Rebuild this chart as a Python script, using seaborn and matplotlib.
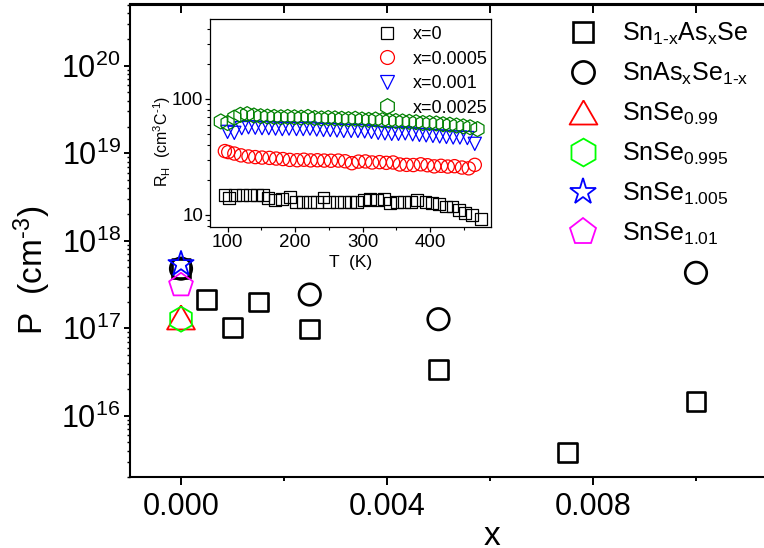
import numpy as np
import matplotlib
matplotlib.use("Agg")
import matplotlib.pyplot as plt
import seaborn as sns
from matplotlib.lines import Line2D
from matplotlib.ticker import MultipleLocator, LogLocator, NullFormatter, FixedLocator

# ---------------- data (main panel) ----------------
x_sn1x = [0.0, 0.0005, 0.001, 0.0015, 0.0025, 0.005, 0.0075, 0.01]
p_sn1x = [4.8e17, 2.15e17, 1.02e17, 2.0e17, 0.98e17, 3.4e16, 3.8e15, 1.47e16]
x_snas = [0.0, 0.0025, 0.005, 0.01]
p_snas = [4.8e17, 2.43e17, 1.27e17, 4.3e17]
x_se099 = [0.0]
p_se099 = [1.33e17]
x_se0995 = [0.0]
p_se0995 = [1.27e17]
x_se1005 = [0.0]
p_se1005 = [5.4e17]
x_se101 = [0.0]
p_se101 = [3.1e17]
main_labels = [r"Sn$_{1\text{-}x}$As$_x$Se", r"SnAs$_x$Se$_{1\text{-}x}$",
               r"SnSe$_{0.99}$", r"SnSe$_{0.995}$", r"SnSe$_{1.005}$", r"SnSe$_{1.01}$"]
x_ticks = [0.000, 0.004, 0.008]

# ---------------- data (inset) ----------------
T_x0 = [96, 102, 111, 122, 133, 144, 153, 160, 170, 180, 192, 201, 211, 222, 232, 242,
        250, 262, 272, 282, 292, 302, 311, 321, 331, 341, 351, 361, 372, 381, 393, 403,
        413, 423, 433, 443, 452, 462, 475]
R_x0 = [14.9, 13.9, 14.9, 14.9, 14.9, 14.9, 14.9, 13.9, 13.5, 13.6, 14.2, 13.0, 13.0,
        13.0, 13.0, 14.1, 12.9, 12.9, 12.9, 13.0, 13.0, 13.5, 13.6, 13.5, 13.6, 12.6,
        13.0, 12.9, 13.0, 13.5, 13.0, 12.6, 12.4, 11.8, 11.8, 11.0, 10.3, 10.0, 9.2]
T_x00005 = [96, 101, 110, 120, 131, 141, 151, 162, 172, 182, 192, 203, 213, 223, 233,
            243, 253, 264, 274, 284, 294, 304, 314, 325, 335, 345, 355, 365, 375, 386,
            396, 406, 416, 426, 436, 447, 457, 466]
R_x00005 = [35.5, 34.8, 33.8, 32.6, 31.9, 31.5, 31.2, 31.0, 30.6, 30.3, 29.8, 29.6,
            29.9, 29.5, 29.6, 29.4, 29.3, 29.4, 29.0, 27.9, 28.8, 28.9, 28.3, 28.5,
            28.1, 28.3, 27.2, 27.0, 26.9, 27.3, 26.8, 26.2, 26.5, 26.1, 26.3, 25.6,
            25.2, 27.0]
T_x0001 = [100, 110, 121, 131, 141, 151, 161, 171, 181, 191, 202, 212, 222, 232, 242,
           252, 262, 272, 283, 293, 303, 313, 323, 333, 343, 353, 363, 374, 384, 394,
           404, 414, 424, 434, 444, 455, 466]
R_x0001 = [52, 51, 56, 57, 56.5, 56, 56, 55.5, 55, 55.5, 55, 55, 55.5, 54.5, 54, 54,
           53.5, 53, 53, 53, 52.5, 52, 51, 50.5, 50, 50, 50.5, 49.5, 49, 48.5, 48,
           47.5, 47, 46.5, 46.5, 46, 41]
T_x00025 = [90, 100, 110, 119, 129, 139, 149, 159, 169, 179, 189, 199, 209, 219, 229,
            239, 249, 259, 269, 279, 289, 299, 309, 319, 329, 339, 349, 359, 369, 379,
            389, 399, 409, 419, 429, 439, 449, 459, 470]
R_x00025 = [64, 62, 69, 73, 74, 72, 71, 70.5, 70, 69.5, 70, 69.5, 69, 70, 68.5, 68,
            68.5, 68, 67.5, 67, 67.5, 66.5, 66, 66.5, 65.5, 65, 64.5, 64, 63.5, 63, 62,
            62, 61.5, 60.5, 60, 59, 58, 57, 55]
inset_labels = ["x=0", "x=0.0005", "x=0.001", "x=0.0025"]

# ---------------- style ----------------
sns.set_theme(style="ticks")
plt.rcParams["font.family"] = ["Liberation Sans", "DejaVu Sans"]
plt.rcParams.update({
    "mathtext.fontset": "custom",
    "mathtext.rm": "Liberation Sans",
    "mathtext.it": "Liberation Sans",
    "mathtext.sf": "Liberation Sans",
    "mathtext.bf": "Liberation Sans:bold",
    "mathtext.default": "regular",
    "axes.edgecolor": "black",
    "xtick.color": "black",
    "ytick.color": "black",
    "text.color": "black",
    "axes.labelcolor": "black",
})

tri_up = [(0, 0.866), (-1, -0.866), (1, -0.866), (0, 0.866)]

W, H = 764, 548
fig = plt.figure(figsize=(W / 100, H / 100), dpi=100)
fig.patch.set_facecolor("white")

# main axes (right spine lies beyond the canvas as in the reference)
L, R_, T_, B_ = 129.5, 799.0, 4.5, 477.0
ax = fig.add_axes([L / W, (H - B_) / H, (R_ - L) / W, (B_ - T_) / H])
ax.set_facecolor("white")
ax.set_yscale("log")

main_series = [
    (x_sn1x, p_sn1x, "s", "black", 13.5, 1.9),
    (x_snas, p_snas, "o", "black", 15.5, 1.9),
    (x_se099, p_se099, tri_up, "#ff0000", 20, 1.3),
    (x_se0995, p_se0995, "h", "#00ff00", 18, 1.3),
    (x_se1005, p_se1005, "*", "#0000ff", 19, 1.3),
    (x_se101, p_se101, "p", "#ff00ff", 18, 1.3),
]
for i, (xs, ys, mk, col, ms, lw) in enumerate(main_series):
    sns.scatterplot(x=xs, y=ys, ax=ax, marker=mk, s=ms ** 2, color=col,
                    facecolors="none", edgecolor=col, linewidth=lw,
                    legend=False, zorder=3 + i, clip_on=False)

ax.set_xlim(-0.001, 0.012)
ax.set_ylim(2e15, 5e20)
ax.xaxis.set_major_locator(FixedLocator(x_ticks))
ax.set_xticklabels([f"{v:.3f}" for v in x_ticks])
ax.xaxis.set_minor_locator(MultipleLocator(0.002))
ax.yaxis.set_major_locator(LogLocator(base=10, numticks=20))
ax.yaxis.set_minor_locator(LogLocator(base=10, subs=np.arange(2, 10), numticks=50))
ax.yaxis.set_minor_formatter(NullFormatter())

for s in ax.spines.values():
    s.set_linewidth(1.5)
    s.set_color("black")
ax.tick_params(axis="x", which="major", direction="out", length=6, width=1.4,
               labelsize=22, pad=5)
ax.tick_params(axis="x", which="minor", direction="out", length=3.2, width=1.4)
ax.tick_params(axis="y", which="major", direction="out", length=4.5, width=1.4,
               labelsize=22, pad=2)
ax.tick_params(axis="y", which="minor", direction="out", length=2.2, width=1.0)

top = ax.secondary_xaxis("top")
top.xaxis.set_major_locator(MultipleLocator(0.002))
top.tick_params(axis="x", which="major", direction="in", length=6.5, width=1.4,
                labelsize=0, labeltop=False)
top.spines["top"].set_linewidth(1.5)

ax.set_ylabel(r"P  (cm$^{\text{-}3}$)", fontsize=24, va="center")
ax.yaxis.set_label_coords((32 - L) / (R_ - L), (B_ - 270) / (B_ - T_))
ax.set_xlabel("x", fontsize=24, va="center")
ax.xaxis.set_label_coords((491.7 - L) / (R_ - L), (B_ - 536.7) / (B_ - T_))

handles = []
for (xs, ys, mk, col, ms, lw), lab in zip(main_series, main_labels):
    lms = {"s": 14, "o": 16}.get(mk if isinstance(mk, str) else "", 20)
    handles.append(Line2D([], [], linestyle="none", marker=mk, markersize=lms,
                          markerfacecolor="none", markeredgecolor=col,
                          markeredgewidth=lw, label=lab))
fig.legend(handles=handles, loc="upper left", bbox_to_anchor=(570.5 / W, (H - 21) / H),
           bbox_transform=fig.transFigure, frameon=False, fontsize=18,
           handlelength=1.0, handletextpad=1.05, labelspacing=0.55, borderpad=0,
           borderaxespad=0)

# ---------------- inset ----------------
iL, iR, iT, iB = 210, 491, 19, 226.7
axin = fig.add_axes([iL / W, (H - iB) / H, (iR - iL) / W, (iB - iT) / H])
axin.set_facecolor("white")
axin.set_yscale("log")
inset_series = [
    (T_x0, R_x0, "s", "black", 8.5),
    (T_x00005, R_x00005, "o", "#ff0000", 9.5),
    (T_x0001, R_x0001, "v", "#0000ff", 9.5),
    (T_x00025, R_x00025, "h", "#008000", 10.8),
]
for i, (xs, ys, mk, col, ms) in enumerate(inset_series):
    sns.scatterplot(x=xs, y=ys, ax=axin, marker=mk, s=ms ** 2, color=col,
                    facecolors="none", edgecolor=col, linewidth=0.9,
                    legend=False, zorder=3 + i)
axin.set_xlim(74, 490)
axin.set_ylim(7.9, 490)
axin.xaxis.set_major_locator(MultipleLocator(100))
axin.xaxis.set_minor_locator(MultipleLocator(50))
axin.yaxis.set_major_locator(FixedLocator([10, 100]))
axin.yaxis.set_minor_locator(LogLocator(base=10, subs=np.arange(2, 10), numticks=50))
axin.yaxis.set_minor_formatter(NullFormatter())
axin.set_yticklabels(["10", "100"])
for s in axin.spines.values():
    s.set_linewidth(0.9)
    s.set_color("black")
axin.tick_params(axis="both", which="major", direction="out", length=3.5, width=0.9,
                 labelsize=13.5, pad=1.5)
axin.tick_params(axis="both", which="minor", direction="out", length=2, width=0.8)
axin.set_ylabel(r"R$_H$  (cm$^3$C$^{\text{-}1}$)", fontsize=11.5, va="center")
axin.yaxis.set_label_coords((162 - iL) / (iR - iL), (iB - 141) / (iB - iT))
axin.set_xlabel("T  (K)", fontsize=12.5, va="center")
axin.xaxis.set_label_coords(0.5, (iB - 263) / (iB - iT))

ihandles = []
for (xs, ys, mk, col, ms), lab in zip(inset_series, inset_labels):
    ihandles.append(Line2D([], [], linestyle="none", marker=mk, markersize=ms + 0.5,
                           markerfacecolor="none", markeredgecolor=col,
                           markeredgewidth=0.9, label=lab))
fig.legend(handles=ihandles, loc="upper left", bbox_to_anchor=(378.3 / W, (H - 26) / H),
           bbox_transform=fig.transFigure, frameon=False, fontsize=13,
           handlelength=1.0, handletextpad=0.9, labelspacing=0.42, borderpad=0,
           borderaxespad=0)

fig.savefig("out.png", dpi=100, facecolor="white")
